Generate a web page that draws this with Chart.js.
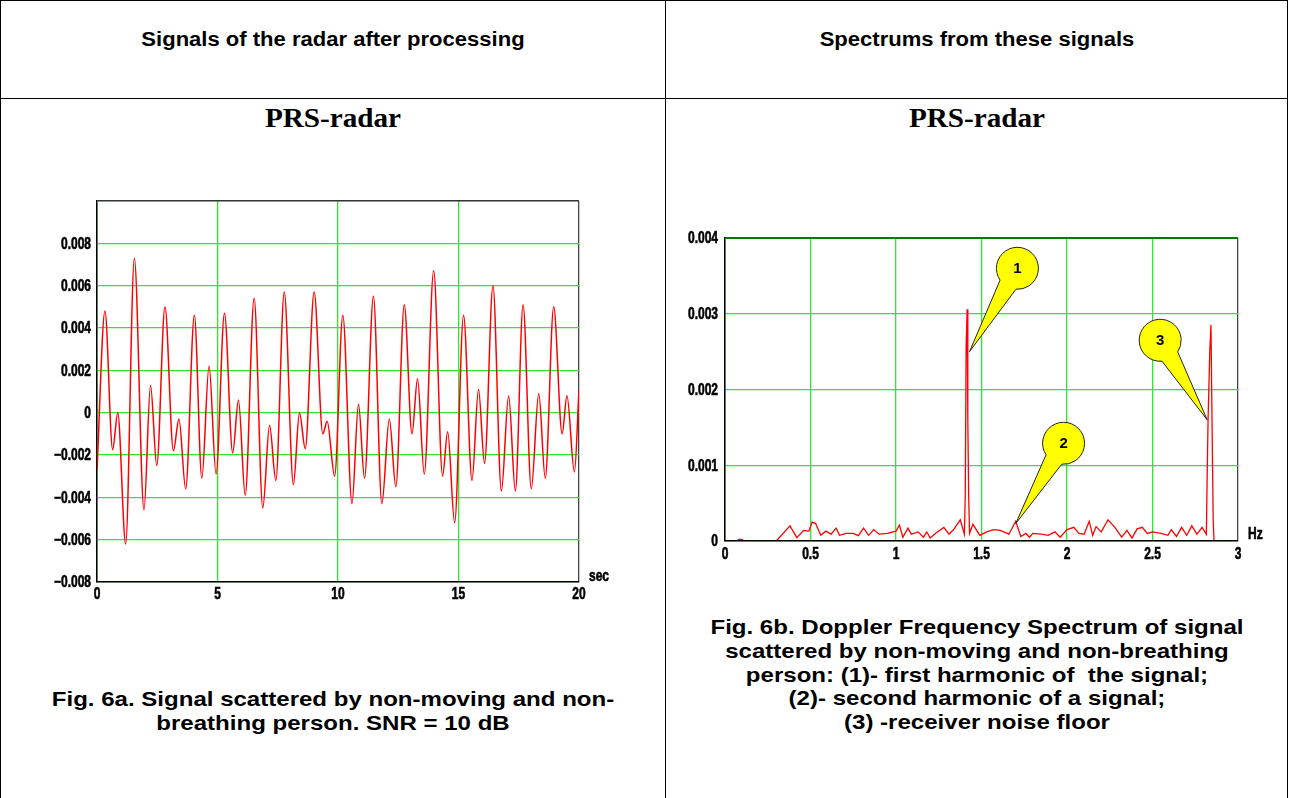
<!DOCTYPE html>
<html>
<head>
<meta charset="utf-8">
<script src="https://cdn.jsdelivr.net/npm/chart.js@4.4.1/dist/chart.umd.min.js"></script>
<style>
  body { margin: 0; background: #fff; width: 1289px; height: 798px; overflow: hidden; position: relative; }
  .box { position: absolute; border: 1px solid #000; }
  .txt { position: absolute; text-align: center; font-family: 'Liberation Sans', Arial, sans-serif; font-weight: bold; color: #000; }
  .hd { font-size: 19.5px; top: 28px; transform: scaleX(1.13); }
  .prs { font-family: 'Liberation Serif', 'Times New Roman', serif; font-size: 27px; top: 103px; transform: scaleX(1.08); }
  .cap { font-size: 21px; line-height: 23.8px; transform: scaleX(1.145); }
  canvas { position: absolute; }
</style>
</head>
<body>
<div class="box" style="left:0;top:0;width:1286px;height:805px;"></div>
<div class="box" style="left:665px;top:0;width:0;height:798px;border-width:0 0 0 1px;"></div>
<div class="box" style="left:0;top:98px;width:1288px;height:0;border-width:1px 0 0 0;"></div>

<div class="txt hd" style="left:0;width:666px;">Signals of the radar after processing</div>
<div class="txt hd" style="left:666px;width:622px;">Spectrums from these signals</div>
<div class="txt prs" style="left:0;width:666px;">PRS-radar</div>
<div class="txt prs" style="left:666px;width:622px;">PRS-radar</div>

<canvas id="ch1" width="580" height="430" style="left:40px;top:190px;"></canvas>
<canvas id="ch2" width="600" height="355" style="left:670px;top:225px;"></canvas>

<div class="txt cap" style="left:0;width:666px;top:687px;">Fig. 6a. Signal scattered by non-moving and non-<br>breathing person. SNR = 10 dB</div>
<div class="txt cap" style="left:666px;width:622px;top:615px;">Fig. 6b. Doppler Frequency Spectrum of signal<br>scattered by non-moving and non-breathing<br>person: (1)- first harmonic of&nbsp; the signal;<br>(2)- second harmonic of a signal;<br>(3) -receiver noise floor</div>

<script>
// radar signal after processing (time in sec, amplitude)
var sigT = [0, 0.33, 0.65, 0.86, 1.19, 1.55, 1.95, 2.22, 2.48, 2.82, 3.17, 3.40, 3.68, 4.04, 4.35, 4.65, 4.94, 5.29, 5.63, 5.87,
            6.15, 6.52, 6.88, 7.16, 7.42, 7.77, 8.15, 8.40, 8.64, 9.01, 9.37, 9.55, 9.86, 10.20, 10.58, 10.85, 11.10, 11.47, 11.82, 12.13,
            12.40, 12.75, 13.07, 13.30, 13.58, 13.97, 14.34, 14.55, 14.84, 15.21, 15.56, 15.83, 16.08, 16.43, 16.78, 17.08, 17.36, 17.68, 18.02, 18.33,
            18.60, 18.95, 19.30, 19.50, 19.81, 20.0];
var sigV = [-0.0027, 0.0048, -0.00175, 0.0000, -0.0062, 0.0073, -0.0046, 0.0013, -0.0025, 0.0050, -0.0018, -0.0003, -0.0036, 0.0046, -0.0031, 0.0022, -0.0029, 0.0047, -0.0019, 0.0006,
            -0.0039, 0.0054, -0.0045, -0.0006, -0.0032, 0.0057, -0.0034, 0.0000, -0.0017, 0.0057, -0.0010, -0.0004, -0.0030, 0.0046, -0.0043, 0.0004, -0.0031, 0.0055, -0.0043, -0.0003,
            -0.0035, 0.0051, -0.0010, 0.0016, -0.0029, 0.0067, -0.0030, -0.0009, -0.0052, 0.0046, -0.0032, 0.0011, -0.0024, 0.0060, -0.0037, 0.0008, -0.0037, 0.0051, -0.0036, 0.0009,
            -0.0031, 0.0050, -0.0010, 0.0008, -0.0028, 0.0011];

// doppler spectrum (Hz, amplitude)
var specF = [0, 0.07, 0.08, 0.10, 0.11, 0.30, 0.38, 0.42, 0.46, 0.49, 0.51, 0.53, 0.56, 0.59, 0.62, 0.65, 0.67, 0.71, 0.75, 0.78,
             0.81, 0.84, 0.87, 0.90, 0.95, 1.00, 1.02, 1.04, 1.07, 1.09, 1.13, 1.16, 1.18, 1.20, 1.23, 1.28, 1.31, 1.34, 1.376, 1.40,
             1.405, 1.41, 1.416, 1.42, 1.425, 1.43, 1.45, 1.49, 1.53, 1.57, 1.61, 1.66, 1.70, 1.73, 1.76, 1.78, 1.80, 1.85, 1.89, 1.93,
             1.96, 2.00, 2.04, 2.07, 2.10, 2.13, 2.15, 2.17, 2.20, 2.24, 2.28, 2.32, 2.35, 2.38, 2.41, 2.44, 2.47, 2.50, 2.55, 2.59,
             2.61, 2.64, 2.67, 2.70, 2.73, 2.76, 2.79, 2.815, 2.82, 2.825, 2.835, 2.842, 2.848, 2.855, 2.86, 3.0];
var specV = [0, 0, 0.00002, 0.00002, 0, 0, 0.0002, 0.000045, 0.00014, 0.00013, 0.00025, 0.00023, 0.000075, 0.00013, 0.00009, 0.00017, 0.000075, 0.0001, 0.0001, 0.00007,
             0.00017, 0.000075, 0.00015, 0.00009, 0.0001, 0.00013, 0.00021, 0.00005, 0.00017, 0.00009, 0.00012, 0.00005, 0.00012, 0.00004, 0.0001, 0.00018, 0.00009, 0.00016, 0.00028, 0.00009,
             0.0006, 0.00255, 0.00306, 0.00158, 0.0006, 0.0001, 0.00022, 0.000075, 0.00012, 0.00015, 0.00014, 0.00009, 0.00026, 0.00006, 0.0001, 0.00005, 0.0001, 0.00009, 0.000075, 0.00012,
             0.00005, 0.00015, 0.00018, 0.0001, 0.00009, 0.00026, 0.000075, 0.00019, 0.00012, 0.00028, 0.00018, 0.00005, 0.00014, 0.00004, 0.00016, 0.00018, 0.0001, 0.00012, 0.0001, 0.000075,
             0.00015, 0.00006, 0.00018, 0.000075, 0.0002, 0.00009, 0.00018, 0.00009, 0.0009, 0.0016, 0.0025, 0.00285, 0.0016, 0.00027, 0, 0];

// callouts on the spectrum: label, tip and balloon centre in data units
var calloutLabels = ["1", "2", "3"];
var calloutTipF = [1.43, 1.70, 2.82];
var calloutTipV = [0.0025, 0.00023, 0.0016];
var calloutCenF = [1.71, 1.98, 2.545];
var calloutCenV = [0.0036, 0.00129, 0.00265];

var gridGreen = "#2ee82e";
var labelFont = "bold 16px 'Liberation Sans', Arial, sans-serif";

function fmt(v){
    var r = Math.round(v * 1000) / 1000;
    if (r == 0) return "0";
    if (r < 0) return "\u2212" + Math.abs(r).toFixed(3);
    return r.toFixed(3);
}

// narrow heavy text like the original plot program
function narrowText(ctx, s, x, y, align){
    ctx.save();
    ctx.translate(x, y);
    ctx.scale(0.75, 1);
    ctx.textAlign = align;
    ctx.textBaseline = "middle";
    ctx.lineWidth = 0.6;
    ctx.strokeStyle = "#000";
    ctx.strokeText(s, 0, 0);
    ctx.fillText(s, 0, 0);
    ctx.restore();
}

var tickLabels = {
    id: "tickLabels",
    afterDraw: function(chart, args, opts){
        var ctx = chart.ctx;
        var xs = chart.scales.x, ys = chart.scales.y, a = chart.chartArea;
        ctx.save();
        ctx.font = labelFont;
        ctx.fillStyle = "#000";
        ys.ticks.forEach(function(t){
            if (opts.hideTop && Math.abs(t.value - ys.max) < 1e-9) return;
            narrowText(ctx, fmt(t.value), a.left - opts.yPad, ys.getPixelForValue(t.value) + 1, "right");
        });
        xs.ticks.forEach(function(t){
            narrowText(ctx, String(Math.round(t.value * 10) / 10), xs.getPixelForValue(t.value), a.bottom + opts.xPad, "center");
        });
        narrowText(ctx, opts.unit, a.right + opts.ux, a.bottom + opts.uy, "left");
        ctx.restore();
    }
};

var balloons = {
    id: "balloons",
    afterDatasetsDraw: function(chart){
        var ctx = chart.ctx;
        var xs = chart.scales.x, ys = chart.scales.y;
        var r = 21;
        for (var i = 0; i < calloutLabels.length; i++){
            var cx = xs.getPixelForValue(calloutCenF[i]);
            var cy = ys.getPixelForValue(calloutCenV[i]);
            var tx = xs.getPixelForValue(calloutTipF[i]);
            var ty = ys.getPixelForValue(calloutTipV[i]);
            var ang = Math.atan2(ty - cy, tx - cx);
            var d = 0.45;
            ctx.save();
            ctx.beginPath();
            ctx.arc(cx, cy, r, ang + d, ang - d + Math.PI * 2);
            ctx.lineTo(tx, ty);
            ctx.closePath();
            ctx.fillStyle = "#ffff00";
            ctx.fill();
            ctx.strokeStyle = "#222";
            ctx.lineWidth = 1;
            ctx.stroke();
            ctx.fillStyle = "#000";
            ctx.font = "bold 15px 'Liberation Sans', Arial, sans-serif";
            ctx.textAlign = "center";
            ctx.textBaseline = "middle";
            ctx.fillText(calloutLabels[i], cx, cy + 1);
            ctx.restore();
        }
    }
};

function makeChart(id, xs, ys, opt){
    var pts = xs.map(function(x, i){ return { x: x, y: ys[i] }; });
    return new Chart(document.getElementById(id), {
        type: "line",
        data: {
            datasets: [{
                data: pts,
                borderColor: "#ff0000",
                borderWidth: opt.lw,
                pointRadius: 0,
                cubicInterpolationMode: opt.smooth ? "monotone" : "default",
                tension: 0
            }]
        },
        options: {
            responsive: false,
            animation: false,
            layout: { padding: opt.padding },
            plugins: {
                legend: { display: false },
                tooltip: { enabled: false },
                tickLabels: opt.labels
            },
            scales: {
                x: {
                    type: "linear",
                    min: opt.xmin, max: opt.xmax,
                    ticks: { stepSize: opt.xstep, display: false },
                    grid: { drawTicks: false, lineWidth: 1.3,
                            color: function(c){ return Math.abs(c.tick.value - opt.xmax) < 1e-9 ? opt.rightColor : gridGreen; } },
                    border: { color: "#000", width: 1.5, z: 1 },
                    afterFit: function(s){ s.height = opt.xh; }
                },
                y: {
                    min: opt.ymin, max: opt.ymax,
                    ticks: { stepSize: opt.ystep, display: false },
                    grid: { drawTicks: false,
                            lineWidth: function(c){ return Math.abs(c.tick.value - opt.ymax) < 1e-9 ? opt.topWidth : 1.3; },
                            color: function(c){ return Math.abs(c.tick.value - opt.ymax) < 1e-9 ? opt.topColor : gridGreen; } },
                    border: { color: "#000", width: 1.5 },
                    afterFit: function(s){ s.width = opt.yw; }
                }
            }
        },
        plugins: opt.extra
    });
}

makeChart("ch1", sigT, sigV, {
    smooth: true, lw: 1.5, xmin: 0, xmax: 20, xstep: 5, ymin: -0.008, ymax: 0.010, ystep: 0.002,
    topColor: "#333", topWidth: 1.5, rightColor: "#444",
    padding: { top: 11, right: 41, left: 0, bottom: 0 }, xh: 38, yw: 57,
    labels: { hideTop: true, yPad: 6, xPad: 13, unit: "sec", ux: 10, uy: -5 },
    extra: [tickLabels]
});

makeChart("ch2", specF, specV, {
    smooth: false, lw: 1.3, xmin: 0, xmax: 3, xstep: 0.5, ymin: 0, ymax: 0.004, ystep: 0.001,
    topColor: "#007a00", topWidth: 2, rightColor: "#444",
    padding: { top: 13, right: 32, left: 0, bottom: 0 }, xh: 39, yw: 55,
    labels: { hideTop: false, yPad: 7, xPad: 14, unit: "Hz", ux: 10, uy: -6 },
    extra: [tickLabels, balloons]
});
</script>
</body>
</html>
